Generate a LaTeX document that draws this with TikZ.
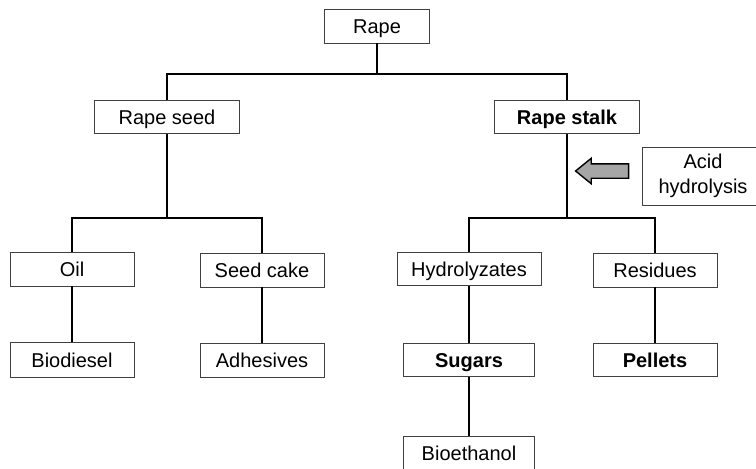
\documentclass[tikz,border=0pt]{standalone}
\usepackage{fontspec}
\setmainfont{Liberation Sans}
\usetikzlibrary{shapes.arrows}
\tikzstyle{box} = [rectangle, minimum width=124pt, minimum height=34pt, inner sep=0pt, text height=18pt, text depth=4pt, text centered, draw=black!75, line width=0.9pt, fill=white, font=\fontsize{20}{23}\selectfont]
\tikzstyle{keybox} = [box, font=\fontsize{20}{23}\selectfont\bfseries]
\tikzstyle{edge} = [line width=2.2pt, line join=miter]
\tikzstyle{push} = [single arrow, shape border rotate=180, draw=black, line width=1.4pt, fill=black!35, minimum height=53pt, minimum width=24pt, single arrow head extend=5.5pt, single arrow tip angle=78, single arrow head indent=0pt, inner xsep=0pt, inner ysep=6.5pt]

\begin{document}
\begin{tikzpicture}[x=1pt, y=-1pt]
\useasboundingbox (0,0) rectangle (756,469);

\node (rape) [box, minimum width=105pt] at (377,26) {Rape};
\node (seed) [box, minimum width=145pt, minimum height=33pt] at (167,117) {Rape seed};
\node (stalk) [keybox, minimum width=145pt, minimum height=33pt] at (567,117) {Rape stalk};
\node (acid) [box, minimum width=122pt, minimum height=58pt, text height=, text depth=, align=center, font=\fontsize{20}{25}\selectfont] at (703,176) {Acid\\hydrolysis};
\node (hydro) [push] at (606.5,171) {};

\node (oil) [box] at (72,269) {Oil};
\node (cake) [box] at (262,270) {Seed cake};
\node (hyd) [box, minimum width=144pt, minimum height=33pt] at (469,269) {Hydrolyzates};
\node (res) [box] at (655,270) {Residues};

\node (diesel) [box, minimum height=35pt] at (72,360) {Biodiesel};
\node (glue) [box] at (262,360) {Adhesives};
\node (sugar) [keybox, minimum width=131pt, minimum height=33pt] at (469,360) {Sugars};
\node (pellet) [keybox, minimum height=33pt] at (655,360) {Pellets};
\node (ethanol) [box, minimum width=131pt] at (469,453) {Bioethanol};

\coordinate (busA) at (377,74);
\coordinate (busB) at (167,218);
\coordinate (busC) at (567,218);

\draw [edge] (rape) -- (busA);
\draw [edge] (seed) |- (busA) -| (stalk);
\draw [edge] (seed) -- (busB);
\draw [edge] (oil) |- (busB) -| (cake);
\draw [edge] (stalk) -- (busC);
\draw [edge] (hyd) |- (busC) -| (res);
\draw [edge] (oil) -- (diesel);
\draw [edge] (cake) -- (glue);
\draw [edge] (hyd) -- (sugar);
\draw [edge] (sugar) -- (ethanol);
\draw [edge] (res) -- (pellet);

\end{tikzpicture}
\end{document}
